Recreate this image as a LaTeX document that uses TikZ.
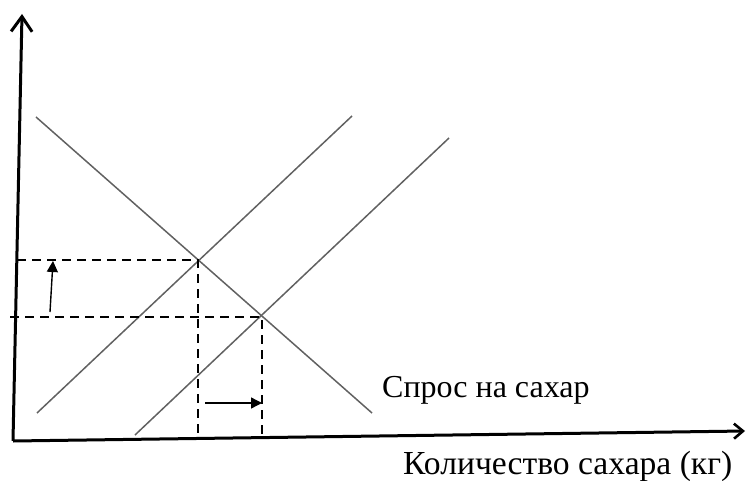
\documentclass[tikz,border=0pt]{standalone}
\usepackage{fontspec}
\setmainfont{Liberation Serif}
\usetikzlibrary{arrows.meta}
\begin{document}
\begin{tikzpicture}[x=1pt,y=-1pt,
  axisline/.style={line width=3pt},
  ytip/.style={-{Straight Barb[length=15pt,width=21pt,line width=3pt]}},
  xtip/.style={-{Straight Barb[length=9pt,width=15pt,line width=2.6pt]}},
  curveline/.style={line width=1.5pt,draw=black!62},
  guideline/.style={line width=1.5pt,dash pattern=on 9pt off 6pt},
  shiftarrow/.style={line width=1.4pt,-{Triangle[length=11pt,width=11pt]}},
  lbl/.style={inner sep=0pt,anchor=base west}]
\useasboundingbox (0,0) rectangle (746,481);
\coordinate (O) at (13,441);
\coordinate (ytop) at (22,14);
\coordinate (xend) at (745,431);
\coordinate (d1) at (36,117);
\coordinate (d2) at (372,413);
\coordinate (s1a) at (37,413);
\coordinate (s1b) at (352,116);
\coordinate (s2a) at (135,435);
\coordinate (s2b) at (449,138);
\coordinate (E1) at (198,260);
\coordinate (E2) at (262,317);
\coordinate (E1x) at (198,439);
\coordinate (E2x) at (262,438);
\coordinate (E1y) at (17,260);
\coordinate (E2y) at (10,317);
\coordinate (ua) at (50,312);
\coordinate (ub) at (53,261);
\coordinate (ra) at (205,403);
\coordinate (rb) at (262,403);
\draw[curveline] (d1) -- (d2);
\draw[curveline] (s1a) -- (s1b);
\draw[curveline] (s2a) -- (s2b);
\draw[guideline] (E1y) -- (E1) -- (E1x);
\draw[guideline] (E2y) -- (E2) -- (E2x);
\draw[shiftarrow] (ua) -- (ub);
\draw[shiftarrow] (ra) -- (rb);
\draw[axisline,ytip] (O) -- (ytop);
\draw[axisline,xtip] (O) -- (xend);
\node[lbl,font=\fontsize{32}{37}\selectfont] (demand) at (382,397) {Спрос на сахар};
\node[lbl,font=\fontsize{33.6}{38}\selectfont] (xlabel) at (403,474) {Количество сахара (кг)};
\end{tikzpicture}
\end{document}
